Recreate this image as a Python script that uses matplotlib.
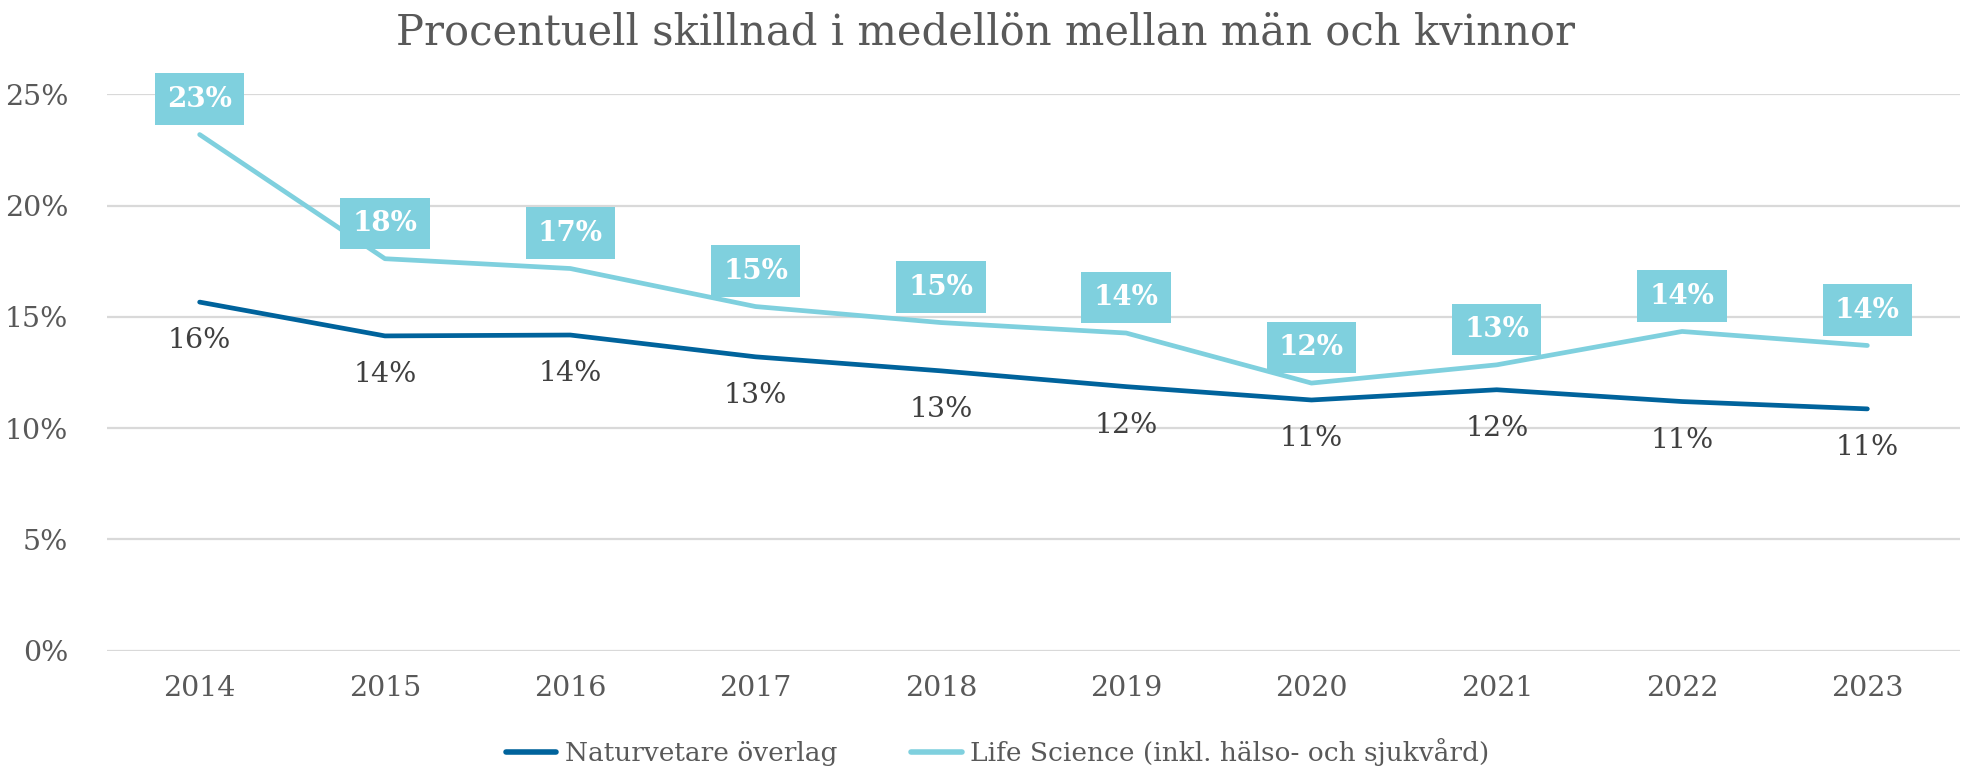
import matplotlib
matplotlib.use("Agg")
import matplotlib.pyplot as plt
from matplotlib.ticker import FuncFormatter

years = ["2014", "2015", "2016", "2017", "2018", "2019", "2020", "2021", "2022", "2023"]
naturvetare = [15.66, 14.14, 14.18, 13.20, 12.57, 11.86, 11.26, 11.72, 11.19, 10.86]
life_science = [23.19, 17.61, 17.17, 15.46, 14.74, 14.27, 12.02, 12.84, 14.34, 13.71]
series_names = ["Naturvetare överlag", "Life Science (inkl. hälso- och sjukvård)"]
title = "Procentuell skillnad i medellön mellan män och kvinnor"

DARK = "#00639C"
LIGHT = "#7FD0DE"
GRID = "#D9D9D9"
TXT = "#595959"
LBL = "#404040"

plt.rcParams['font.family'] = ['DejaVu Serif']

fig = plt.figure(figsize=(19.72, 7.69), dpi=100)
ax = fig.add_axes([107/1972, 1-650.5/769, (1960-107)/1972, (650.5-94.3)/769])

x = list(range(len(years)))
ax.plot(x, [v/100 for v in naturvetare], color=DARK, lw=3.4, solid_capstyle='round',
        solid_joinstyle='round', label=series_names[0], zorder=3)
ax.plot(x, [v/100 for v in life_science], color=LIGHT, lw=3.4, solid_capstyle='round',
        solid_joinstyle='round', label=series_names[1], zorder=3)

for i, v in enumerate(naturvetare):
    ax.annotate(f"{round(v):d}%", (i, v/100), xytext=(0, -28), textcoords='offset points',
                ha='center', va='center', fontsize=20.5, color=LBL, zorder=4)
for i, v in enumerate(life_science):
    ax.annotate(f"{round(v):d}%", (i, v/100), xytext=(0, 25.5), textcoords='offset points',
                ha='center', va='center', fontsize=20, color='white', fontweight='bold',
                bbox=dict(boxstyle='square,pad=0.44', fc=LIGHT, ec='none'), zorder=5)

ax.set_xlim(-0.5, len(years)-0.5)
ax.set_ylim(0, 0.25)
ax.set_yticks([0, 0.05, 0.10, 0.15, 0.20, 0.25])
ax.yaxis.set_major_formatter(FuncFormatter(lambda v, p: f"{v*100:.0f}%"))
ax.set_xticks(x)
ax.set_xticklabels(years)
ax.grid(axis='y', color=GRID, lw=1.6)
ax.set_axisbelow(True)
for s in ax.spines.values():
    s.set_visible(False)
ax.tick_params(length=0, labelsize=20.5, colors=TXT, pad=18)
ax.tick_params(axis='y', pad=28)

fig.text(0.5, 0.958, title, ha='center', va='center', fontsize=30, color=TXT)

leg = fig.legend(loc='center', bbox_to_anchor=(0.506, 0.022), ncol=2, frameon=False,
                 fontsize=19, handlelength=1.9, handletextpad=0.33, columnspacing=2.8,
                 labelcolor=TXT)
for h in leg.get_lines():
    h.set_linewidth(4)

fig.savefig("out.png", dpi=100, facecolor='white')
